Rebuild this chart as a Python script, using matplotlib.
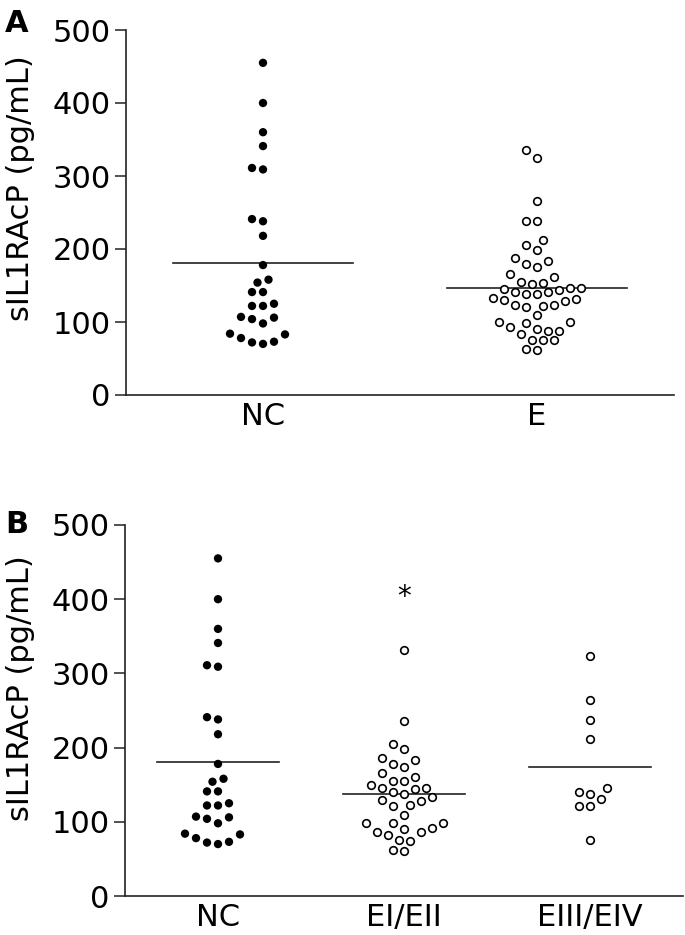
import numpy as np
import matplotlib.pyplot as plt

plt.rcParams['font.family'] = 'DejaVu Sans'

# values (pg/mL)
nc_vals = [455, 400, 360, 341, 309, 311, 241, 238, 218, 178, 158, 154, 141, 141,
           125, 122, 122, 107, 104, 98, 106, 83, 73, 70, 72, 78, 84]
e_vals = [335, 324, 266, 239, 239, 212, 205, 199, 187, 184, 179, 176, 166, 161,
          155, 154, 152, 147, 144, 141, 139, 139, 141, 145, 147, 133, 130, 129,
          131, 123, 121, 122, 123, 109, 98, 100, 100, 91, 88, 83, 88, 93, 75,
          75, 76, 61, 63]
e12_vals = [332, 236, 205, 198, 186, 183, 178, 174, 166, 160, 155, 155, 150, 146,
            145, 144, 140, 138, 133, 130, 128, 123, 121, 109, 98, 98, 98, 92, 90,
            86, 86, 82, 74, 75, 60, 62]
e34_vals = [323, 264, 237, 212, 145, 140, 138, 131, 121, 121, 75]

labels_a = ['NC', 'E']
labels_b = ['NC', 'EI/EII', 'EIII/EIV']
yticks = [0, 100, 200, 300, 400, 500]
ylabel = 'sIL1RAcP (pg/mL)'

FS = 22


def swarm_x(ax, vals, center, step=11.0):
    # simple beeswarm in pixel space, half-step slots like Prism
    p0 = ax.transData.transform((0, 0))
    p1 = ax.transData.transform((1, 1))
    sx, sy = p1[0] - p0[0], p1[1] - p0[1]
    vals = np.asarray(vals, dtype=float)
    xs = np.zeros(len(vals))
    placed = []
    slots = [0]
    for k in range(1, 20):
        slots += [-k, k]
    for i in np.argsort(vals):
        y = vals[i] * sy
        for k in slots:
            x = k * step / 2
            if all((x - px) ** 2 + (y - py) ** 2 >= (step * 0.97) ** 2 for px, py in placed):
                break
        placed.append((x, y))
        xs[i] = center + x / sx
    return xs


def panel(ax, groups, labels, filled):
    ax.set_xlim(-0.5, len(groups) - 0.5)
    ax.set_ylim(0, 500)
    for i, (vals, f) in enumerate(zip(groups, filled)):
        m = np.mean(vals)
        ax.plot([i - 0.33, i + 0.33], [m, m], color='#222222', lw=1.2, zorder=2)
        xs = swarm_x(ax, vals, i)
        if f:
            ax.scatter(xs, vals, s=36, c='black', edgecolors='none', zorder=3)
        else:
            ax.scatter(xs, vals, s=30, facecolors='white', edgecolors='black',
                       linewidths=1.2, zorder=3)
    ax.set_xticks(range(len(groups)))
    ax.set_xticklabels(labels)
    ax.set_yticks(yticks)
    ax.tick_params(axis='x', length=0, pad=5, labelsize=FS)
    ax.tick_params(axis='y', length=8, width=1.1, pad=3, labelsize=FS, color='#222222')
    for s in ['top', 'right']:
        ax.spines[s].set_visible(False)
    for s in ['left', 'bottom']:
        ax.spines[s].set_linewidth(1.2)
        ax.spines[s].set_color('#222222')


fig = plt.figure(figsize=(6.85, 9.35), dpi=100)
ax_a = fig.add_axes([126 / 685, 1 - 395 / 935, 548 / 685, 365 / 935])
ax_b = fig.add_axes([125 / 685, 1 - 896 / 935, 558 / 685, 371 / 935])

panel(ax_a, [nc_vals, e_vals], labels_a, [True, False])
panel(ax_b, [nc_vals, e12_vals, e34_vals], labels_b, [True, False, False])

# significance mark above EI/EII
ax_b.text(1, 403, '*', ha='center', va='center', fontsize=20)

fig.text(21 / 685, 1 - 188 / 935, ylabel, rotation=90, ha='center', va='center', fontsize=FS)
fig.text(21 / 685, 1 - 688 / 935, ylabel, rotation=90, ha='center', va='center', fontsize=FS)
fig.text(5 / 685, 1 - 32 / 935, 'A', fontsize=22, fontweight='bold', va='baseline')
fig.text(5 / 685, 1 - 533 / 935, 'B', fontsize=22, fontweight='bold', va='baseline')

fig.savefig('out.png', dpi=100, facecolor='white')
